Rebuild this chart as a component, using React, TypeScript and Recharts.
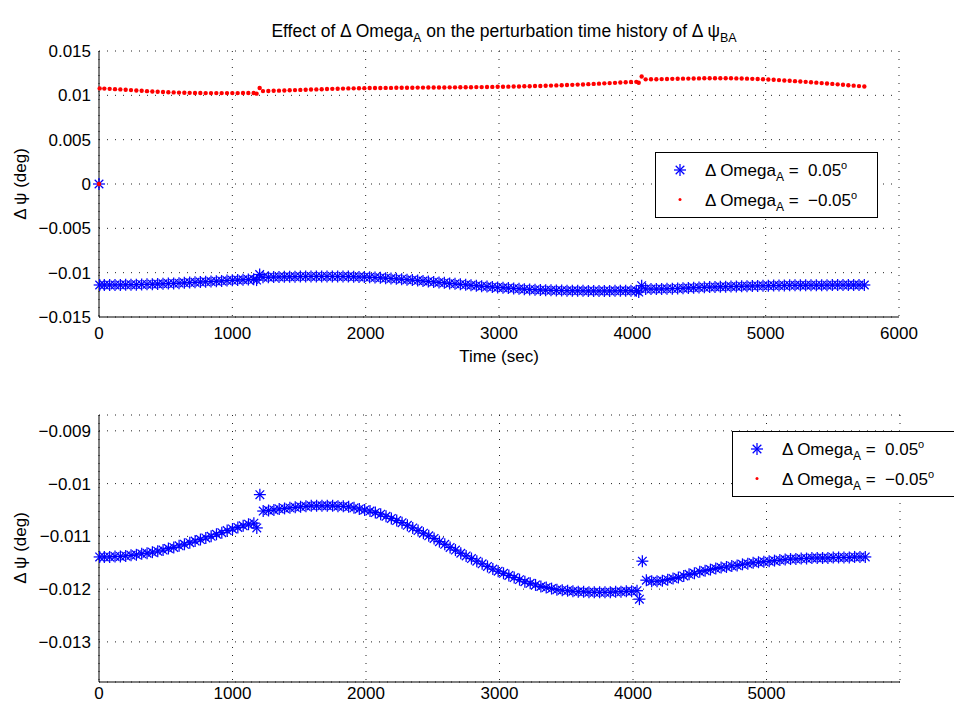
import React from 'react';
import { ScatterChart, Scatter, XAxis, YAxis, CartesianGrid, Legend } from 'recharts';

const FONT = '"Liberation Sans", Arial, Helvetica, sans-serif';

// time (sec)
const timeSec = [
  0, 5, 40, 80, 120, 160, 200, 240, 280, 320,
  360, 400, 440, 480, 520, 560, 600, 640, 680, 720,
  760, 800, 840, 880, 920, 960, 1000, 1040, 1080, 1120,
  1160, 1182, 1205, 1230, 1270, 1310, 1350, 1390, 1430, 1470,
  1510, 1550, 1590, 1630, 1670, 1710, 1750, 1790, 1830, 1870,
  1910, 1950, 1990, 2030, 2070, 2110, 2150, 2190, 2230, 2270,
  2310, 2350, 2390, 2430, 2470, 2510, 2550, 2590, 2630, 2670,
  2710, 2750, 2790, 2830, 2870, 2910, 2950, 2990, 3030, 3070,
  3110, 3150, 3190, 3230, 3270, 3310, 3350, 3390, 3430, 3470,
  3510, 3550, 3590, 3630, 3670, 3710, 3750, 3790, 3830, 3870,
  3910, 3950, 3990, 4030, 4048, 4070, 4100, 4140, 4180, 4220,
  4260, 4300, 4340, 4380, 4420, 4460, 4500, 4540, 4580, 4620,
  4660, 4700, 4740, 4780, 4820, 4860, 4900, 4940, 4980, 5020,
  5060, 5100, 5140, 5180, 5220, 5260, 5300, 5340, 5380, 5420,
  5460, 5500, 5540, 5580, 5620, 5660, 5700, 5740,
];

// Δψ for ΔOmega_A = +0.05°
const dPsiPlus = [
  0, -0.01139, -0.01139, -0.01139, -0.01138, -0.01138, -0.01137, -0.01136, -0.01135, -0.01133,
  -0.01132, -0.01130, -0.01128, -0.01126, -0.01123, -0.01121, -0.01118, -0.01115, -0.01112, -0.01109,
  -0.01106, -0.01103, -0.01100, -0.01096, -0.01093, -0.01089, -0.01086, -0.01083, -0.01080, -0.01077,
  -0.01075, -0.01084, -0.01021, -0.01052, -0.01051, -0.01050, -0.01048, -0.01047, -0.01046, -0.01045,
  -0.01044, -0.01043, -0.01042, -0.01042, -0.01042, -0.01042, -0.01042, -0.01043, -0.01043, -0.01044,
  -0.01046, -0.01048, -0.01050, -0.01052, -0.01055, -0.01058, -0.01062, -0.01066, -0.01070, -0.01074,
  -0.01079, -0.01084, -0.01089, -0.01094, -0.01099, -0.01104, -0.01110, -0.01115, -0.01121, -0.01126,
  -0.01132, -0.01137, -0.01142, -0.01147, -0.01152, -0.01157, -0.01162, -0.01166, -0.01170, -0.01174,
  -0.01178, -0.01182, -0.01186, -0.01189, -0.01192, -0.01195, -0.01197, -0.01199, -0.01201, -0.01202,
  -0.01203, -0.01204, -0.01205, -0.01205, -0.01206, -0.01206, -0.01206, -0.01206, -0.01206, -0.01205,
  -0.01205, -0.01204, -0.01204, -0.01203, -0.01219, -0.01147, -0.01183, -0.01185, -0.01185, -0.01184,
  -0.01182, -0.01180, -0.01178, -0.01175, -0.01172, -0.01170, -0.01167, -0.01165, -0.01163, -0.01161,
  -0.01159, -0.01158, -0.01156, -0.01155, -0.01153, -0.01152, -0.01150, -0.01149, -0.01148, -0.01147,
  -0.01146, -0.01145, -0.01144, -0.01143, -0.01143, -0.01142, -0.01142, -0.01141, -0.01141, -0.01141,
  -0.01141, -0.01140, -0.01140, -0.01140, -0.01140, -0.01139, -0.01139, -0.01139,
];

// Δψ for ΔOmega_A = −0.05°
const dPsiMinus = [
  0, 0.01078, 0.01076, 0.01073, 0.01070, 0.01067, 0.01063, 0.01059, 0.01055, 0.01051,
  0.01047, 0.01044, 0.01041, 0.01038, 0.01035, 0.01033, 0.01031, 0.01029, 0.01028, 0.01027,
  0.01026, 0.01025, 0.01025, 0.01025, 0.01025, 0.01025, 0.01025, 0.01025, 0.01026, 0.01026,
  0.01026, 0.01019, 0.01082, 0.01048, 0.01049, 0.01051, 0.01053, 0.01055, 0.01057, 0.01059,
  0.01061, 0.01063, 0.01065, 0.01067, 0.01069, 0.01071, 0.01073, 0.01075, 0.01076, 0.01078,
  0.01079, 0.01080, 0.01081, 0.01082, 0.01083, 0.01083, 0.01084, 0.01084, 0.01085, 0.01085,
  0.01086, 0.01086, 0.01087, 0.01087, 0.01088, 0.01088, 0.01089, 0.01089, 0.01090, 0.01090,
  0.01091, 0.01091, 0.01092, 0.01093, 0.01093, 0.01094, 0.01095, 0.01096, 0.01097, 0.01098,
  0.01099, 0.01100, 0.01102, 0.01103, 0.01105, 0.01106, 0.01108, 0.01110, 0.01112, 0.01114,
  0.01116, 0.01118, 0.01121, 0.01123, 0.01126, 0.01129, 0.01132, 0.01135, 0.01138, 0.01141,
  0.01144, 0.01147, 0.01150, 0.01152, 0.01142, 0.01213, 0.01180, 0.01181, 0.01182, 0.01183,
  0.01185, 0.01186, 0.01187, 0.01188, 0.01189, 0.01190, 0.01191, 0.01192, 0.01192, 0.01193,
  0.01193, 0.01193, 0.01192, 0.01191, 0.01190, 0.01188, 0.01186, 0.01184, 0.01181, 0.01178,
  0.01175, 0.01172, 0.01168, 0.01164, 0.01160, 0.01156, 0.01152, 0.01147, 0.01143, 0.01138,
  0.01133, 0.01129, 0.01124, 0.01119, 0.01114, 0.01109, 0.01104, 0.01099,
];

const legendValues = ['0.05', '\u22120.05'];

const xTicksTop = [0, 1000, 2000, 3000, 4000, 5000, 6000];
const xTicksBottom = [0, 1000, 2000, 3000, 4000, 5000];
const yTicksTop = [-0.015, -0.01, -0.005, 0, 0.005, 0.01, 0.015];
const yTicksBottom = [-0.013, -0.012, -0.011, -0.01, -0.009];

const xMinor = Array.from({ length: 121 }, (_, i) => i * 50);
const yMinorTop = Array.from({ length: 31 }, (_, i) => -0.015 + i * 0.001);
const yMinorBottom = Array.from({ length: 40 }, (_, i) => -0.014 + i / 6000).filter(
  (v) => v >= -0.01376 && v <= -0.0087
);

const rows = timeSec.map((t, i) => ({ t, plus: dPsiPlus[i], minus: dPsiMinus[i] }));

const fmt = (v: number) => (v === 0 ? '0' : (v < 0 ? '\u2212' : '') + String(Math.abs(v)));

function StarShape(props: any) {
  const { cx, cy } = props;
  if (cx == null || cy == null || isNaN(cx) || isNaN(cy)) return null;
  const r = 6;
  const d = 4.3;
  return (
    <g stroke="#0000ff" strokeWidth={1.25} fill="none">
      <line x1={cx - r} y1={cy} x2={cx + r} y2={cy} />
      <line x1={cx} y1={cy - r} x2={cx} y2={cy + r} />
      <line x1={cx - d} y1={cy - d} x2={cx + d} y2={cy + d} />
      <line x1={cx - d} y1={cy + d} x2={cx + d} y2={cy - d} />
    </g>
  );
}

function DotShape(props: any) {
  const { cx, cy } = props;
  if (cx == null || cy == null || isNaN(cx) || isNaN(cy)) return null;
  return <circle cx={cx} cy={cy} r={2.2} fill="#ff0000" />;
}

function LegendText({ x, y, value }: { x: number; y: number; value: string }) {
  return (
    <text x={x} y={y} fontSize={17} fontFamily={FONT} fill="#000" style={{ whiteSpace: 'pre' }}>
      {'\u0394 Omega'}
      <tspan dy={5} fontSize={12}>A</tspan>
      <tspan dy={-5}>{' =  ' + value}</tspan>
      <tspan dy={-7} fontSize={11}>o</tspan>
    </text>
  );
}

function LegendBox() {
  return (
    <svg width={224} height={67} style={{ display: 'block', overflow: 'visible' }}>
      <rect x={0.5} y={0.5} width={222} height={65} fill="#fff" stroke="#000" strokeWidth={1} />
      <StarShape cx={25} cy={18} />
      <circle cx={25} cy={47.5} r={1.5} fill="#ff0000" />
      <LegendText x={50} y={24} value={legendValues[0]} />
      <LegendText x={50} y={54} value={legendValues[1]} />
    </svg>
  );
}

const tickStyle = { fill: '#000', fontSize: 17, fontFamily: FONT };

type PanelProps = {
  top: number;
  height: number;
  margin: { top: number; right: number; bottom: number; left: number };
  xTicks: number[];
  yDomain: [number, number];
  yTicks: number[];
  yMinor: number[];
  xAxisHeight: number;
  xTickSize: number;
  xTickMargin: number;
  legendLeft: number;
  legendTop: number;
  clipY: boolean;
};

function Panel(p: PanelProps) {
  const xDomain: [number, number] = [0, 6000];
  return (
    <div style={{ position: 'absolute', left: 0, top: p.top }}>
      <ScatterChart width={954} height={p.height} margin={p.margin}>
        <CartesianGrid stroke="#222" strokeDasharray="1 7" />
        <XAxis
          type="number"
          dataKey="t"
          domain={xDomain}
          ticks={p.xTicks}
          interval={0}
          tickLine={false}
          tickSize={p.xTickSize}
          tickMargin={p.xTickMargin}
          height={p.xAxisHeight}
          stroke="#000"
          tick={tickStyle}
        />
        <YAxis
          type="number"
          domain={p.yDomain}
          ticks={p.yTicks}
          interval={0}
          allowDataOverflow={p.clipY}
          width={80}
          tickLine={false}
          tickSize={6}
          tickMargin={2}
          stroke="#000"
          tick={tickStyle}
          tickFormatter={fmt}
        />
        <XAxis
          xAxisId="xMajIn"
          type="number"
          domain={xDomain}
          ticks={p.xTicks}
          interval={0}
          allowDataOverflow
          mirror
          height={0}
          tick={false}
          tickSize={9}
          axisLine={false}
          stroke="#000"
        />
        <XAxis
          xAxisId="xMinIn"
          type="number"
          domain={xDomain}
          ticks={xMinor}
          interval={0}
          allowDataOverflow
          mirror
          height={0}
          tick={false}
          tickSize={4}
          axisLine={false}
          stroke="#000"
        />
        <YAxis
          yAxisId="yMajIn"
          type="number"
          domain={p.yDomain}
          ticks={p.yTicks}
          interval={0}
          allowDataOverflow
          mirror
          width={0}
          tick={false}
          tickSize={9}
          axisLine={false}
          stroke="#000"
        />
        <YAxis
          yAxisId="yMinIn"
          type="number"
          domain={p.yDomain}
          ticks={p.yMinor}
          interval={0}
          allowDataOverflow
          mirror
          width={0}
          tick={false}
          tickSize={4}
          axisLine={false}
          stroke="#000"
        />
        <Scatter data={rows} dataKey="plus" name="plus" shape={StarShape} isAnimationActive={false} />
        <Scatter data={rows} dataKey="minus" name="minus" shape={DotShape} isAnimationActive={false} />
        <Legend
          layout="horizontal"
          verticalAlign="middle"
          align="center"
          content={() => <LegendBox />}
          wrapperStyle={{ left: p.legendLeft, top: p.legendTop, width: 224, height: 67 }}
        />
      </ScatterChart>
    </div>
  );
}

export default function App() {
  return (
    <div
      style={{
        position: 'absolute',
        left: 0,
        top: 0,
        width: 954,
        height: 709,
        background: '#fff',
        overflow: 'hidden',
      }}
    >
      <Panel
        top={0}
        height={380}
        margin={{ top: 51, right: 55, bottom: 13, left: 19 }}
        xTicks={xTicksTop}
        yDomain={[-0.015, 0.015]}
        yTicks={yTicksTop}
        yMinor={yMinorTop}
        xAxisHeight={50}
        xTickSize={6}
        xTickMargin={4}
        legendLeft={655}
        legendTop={152}
        clipY={false}
      />
      <Panel
        top={370}
        height={339}
        margin={{ top: 45, right: 54, bottom: 2, left: 19 }}
        xTicks={xTicksBottom}
        yDomain={[-0.01376, -0.0087]}
        yTicks={yTicksBottom}
        yMinor={yMinorBottom}
        xAxisHeight={25}
        xTickSize={3}
        xTickMargin={2}
        legendLeft={732}
        legendTop={61}
        clipY={true}
      />
      <svg
        width={954}
        height={709}
        style={{ position: 'absolute', left: 0, top: 0, pointerEvents: 'none' }}
      >
        <text x={504} y={37} textAnchor="middle" fontSize={17.5} fontFamily={FONT} fill="#000">
          {'Effect of \u0394 Omega'}
          <tspan dy={5} fontSize={12.5}>A</tspan>
          <tspan dy={-5}>{' on the perturbation time history of \u0394 \u03c8'}</tspan>
          <tspan dy={5} fontSize={12.5}>BA</tspan>
        </text>
        <text x={499} y={362} textAnchor="middle" fontSize={17} fontFamily={FONT} fill="#000">
          Time (sec)
        </text>
        <text
          transform="translate(26,184) rotate(-90)"
          textAnchor="middle"
          fontSize={17}
          fontFamily={FONT}
          fill="#000"
        >
          {'\u0394 \u03c8 (deg)'}
        </text>
        <text
          transform="translate(26,548) rotate(-90)"
          textAnchor="middle"
          fontSize={17}
          fontFamily={FONT}
          fill="#000"
        >
          {'\u0394 \u03c8 (deg)'}
        </text>
      </svg>
    </div>
  );
}
